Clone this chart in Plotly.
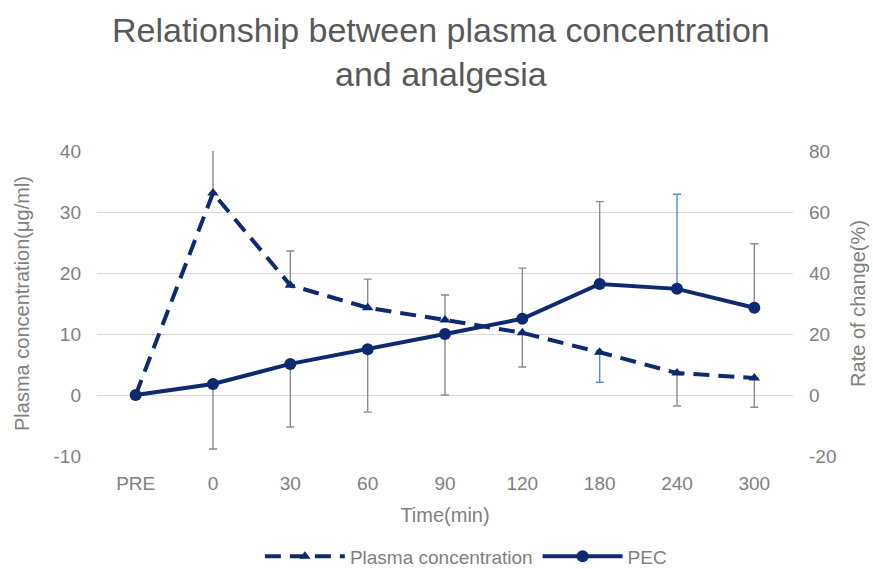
import plotly.graph_objects as go

time_labels = ["PRE", "0", "30", "60", "90", "120", "180", "240", "300"]

# Plasma concentration (left axis, µg/ml)
plasma = [0, 33.1, 18.0, 14.3, 12.3, 10.2, 7.0, 3.6, 2.8]
plasma_err_up = [0, 7.7, 5.6, 4.7, 4.1, 0, 0, 0, 0]
plasma_err_down_grey = [0, 0, 0, 0, 0, 5.6, 0, 5.4, 4.8]
plasma_err_down_blue = [0, 0, 0, 0, 0, 0, 4.9, 0, 0]

# PEC rate of change (right axis, %)
pec = [0, 3.6, 10.2, 15.0, 20.0, 25.0, 36.4, 34.8, 28.6]
pec_err_down = [0, 21.3, 20.7, 20.6, 20.0, 0, 0, 0, 0]
pec_err_up_grey = [0, 0, 0, 0, 0, 16.6, 27.0, 0, 21.0]
pec_err_up_blue = [0, 0, 0, 0, 0, 0, 0, 31.0, 0]

left_ticks = [-10, 0, 10, 20, 30, 40]
left_ticktext = ["-10", "0", "10", "20", "30", "40"]
right_ticks = [-20, 0, 20, 40, 60, 80]
right_ticktext = ["-20", "0", "20", "40", "60", "80"]

navy = "#0e2a6e"
grey_err = "#8c8c8c"
blue_err = "#5b8bd0"
txt = "#808080"
font = "Liberation Sans, Arial, sans-serif"

fig = go.Figure()


def err_trace(y, up, down, color, axis):
    return go.Scatter(
        x=time_labels, y=y, mode="markers",
        marker=dict(size=1, color="rgba(0,0,0,0)"),
        error_y=dict(type="data", symmetric=False, array=up, arrayminus=down,
                     color=color, thickness=1.4, width=4),
        showlegend=False, hoverinfo="skip", yaxis=axis)


fig.add_trace(err_trace(plasma, plasma_err_up, plasma_err_down_grey, grey_err, "y"))
fig.add_trace(err_trace(plasma, [0] * 9, plasma_err_down_blue, blue_err, "y"))
fig.add_trace(err_trace(pec, pec_err_up_grey, pec_err_down, grey_err, "y2"))
fig.add_trace(err_trace(pec, pec_err_up_blue, [0] * 9, blue_err, "y2"))

fig.add_trace(go.Scatter(
    x=time_labels, y=plasma, name="Plasma concentration", mode="lines+markers",
    line=dict(color=navy, width=4, dash="16px,9px"),
    marker=dict(symbol="triangle-up", size=10, color=navy),
    yaxis="y"))
fig.add_trace(go.Scatter(
    x=time_labels, y=pec, name="PEC", mode="lines+markers",
    line=dict(color=navy, width=4),
    marker=dict(symbol="circle", size=12, color=navy),
    yaxis="y2"))

fig.update_layout(
    width=873, height=569,
    paper_bgcolor="white", plot_bgcolor="white",
    margin=dict(l=97, r=80, t=151, b=113, autoexpand=False),
    font=dict(family=font, color=txt, size=19),
    title=dict(text="Relationship between plasma concentration<br>and analgesia",
               x=0.505, xanchor="center", y=0.926, yanchor="top",
               font=dict(size=34, color="#595959", family=font)),
    xaxis=dict(type="category", range=[-0.5, 8.5], showgrid=False,
               showline=False, ticks="", tickfont=dict(size=19, color=txt),
               ticklabelstandoff=14,
               title=dict(text="Time(min)", font=dict(size=20, color=txt), standoff=14)),
    yaxis=dict(range=[-10, 40], tickvals=left_ticks, ticktext=left_ticktext,
               showgrid=True, gridcolor="#d9d9d9",
               gridwidth=1.3, zeroline=False, showline=False,
               tickfont=dict(size=19, color=txt), ticklabelstandoff=15,
               title=dict(text="Plasma concentration(μg/ml)", font=dict(size=20, color=txt), standoff=18)),
    yaxis2=dict(range=[-20, 80], tickvals=right_ticks, ticktext=right_ticktext,
                overlaying="y", side="right",
                showgrid=False, zeroline=False, showline=False,
                tickfont=dict(size=19, color=txt), ticklabelstandoff=15,
                title=dict(text="Rate of change(%)", font=dict(size=20, color=txt), standoff=15)),
    legend=dict(orientation="h", x=0.53, xanchor="center", yref="container",
                y=0.022, yanchor="middle",
                font=dict(size=19, color=txt), itemwidth=80),
)

fig.write_html("out.html")
